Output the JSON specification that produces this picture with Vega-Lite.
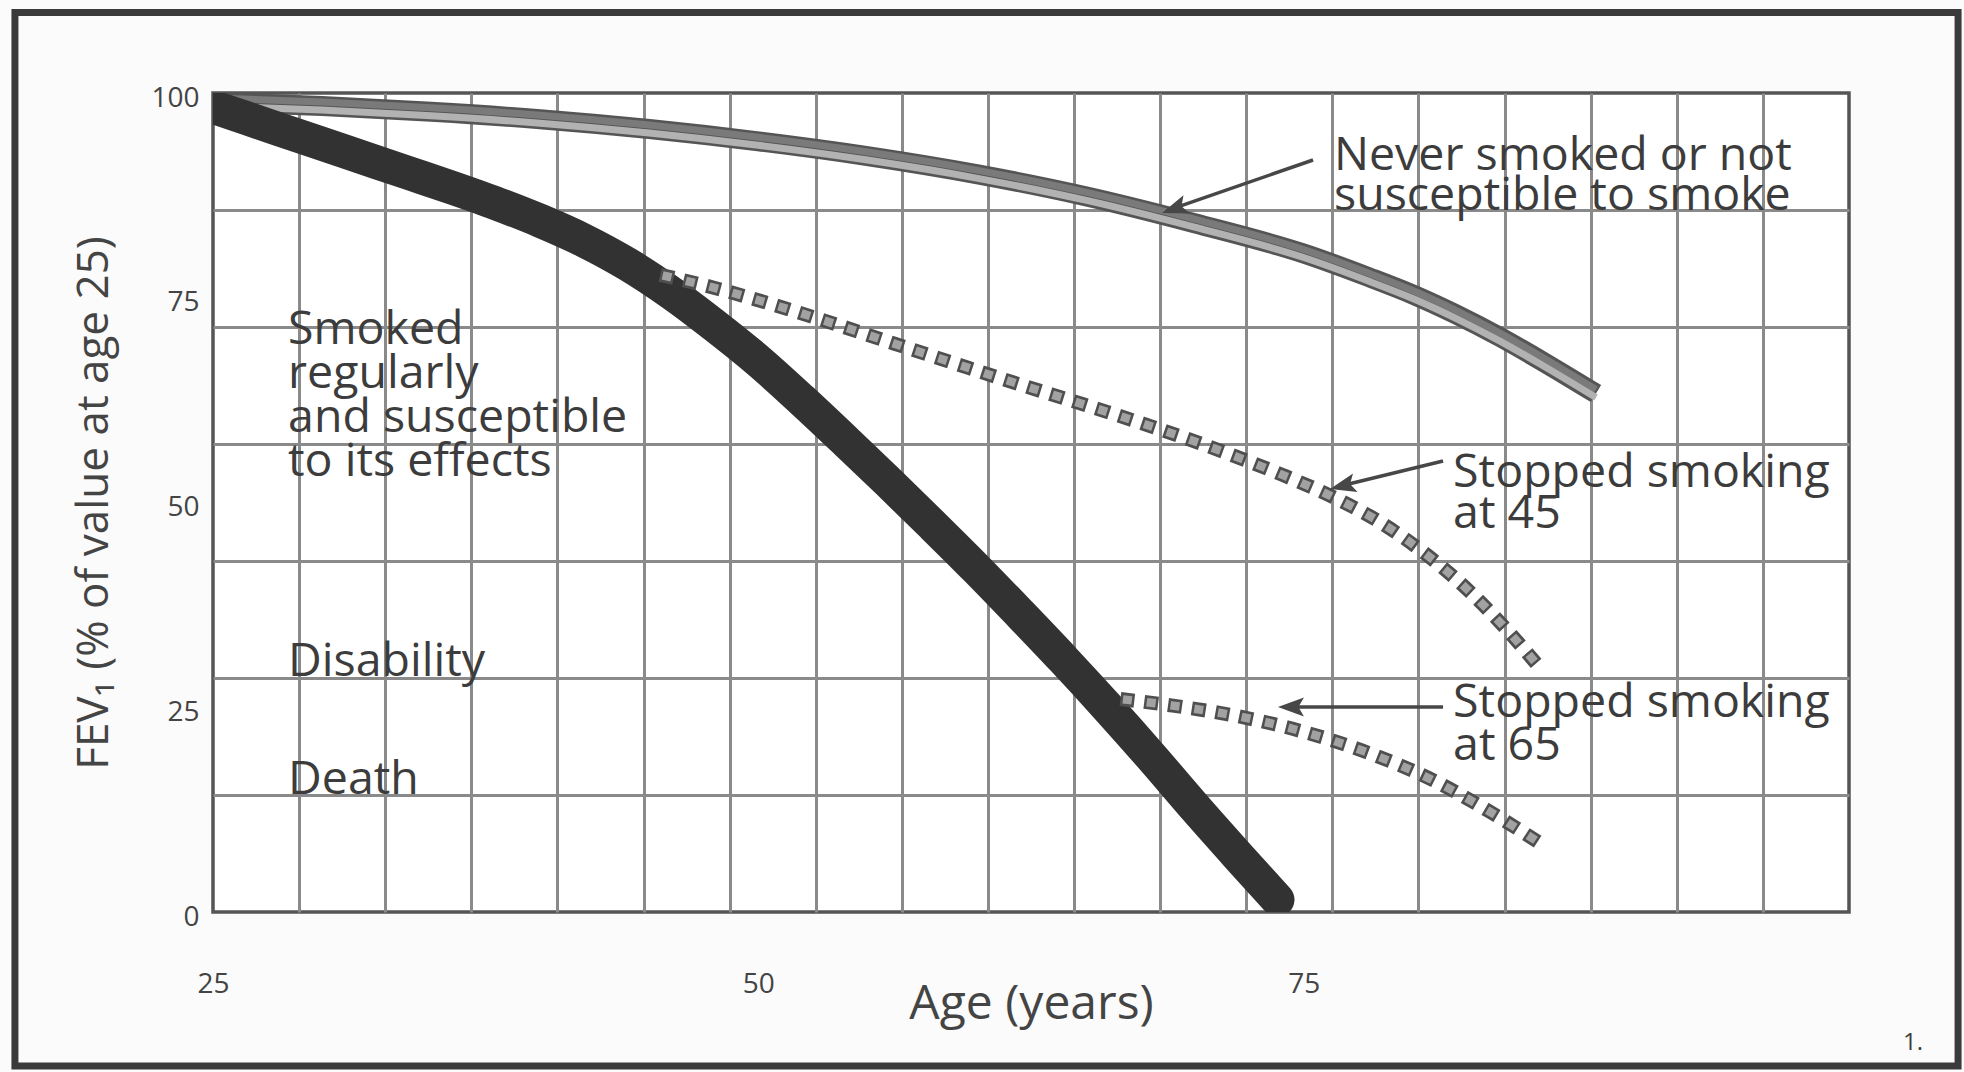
{
  "$schema": "https://vega.github.io/schema/vega-lite/v6.json",
  "width": 1636,
  "height": 819,
  "autosize": {"type": "none"},
  "padding": {"left": 213, "top": 93, "right": 115, "bottom": 160},
  "background": "#fbfbfb",
  "config": {
    "font": "Open Sans",
    "view": {"stroke": "#555555", "strokeWidth": 3.5, "fill": "#ffffff"}
  },
  "datasets": {
    "never": [
      {"age": 25, "fev": 98.9}, {"age": 30, "fev": 98.4}, {"age": 35, "fev": 97.7},
      {"age": 40, "fev": 96.8}, {"age": 45, "fev": 95.6}, {"age": 50, "fev": 94.1},
      {"age": 55, "fev": 92.3}, {"age": 60, "fev": 90.1}, {"age": 65, "fev": 87.4},
      {"age": 70, "fev": 84.1}, {"age": 75, "fev": 80.4}, {"age": 78, "fev": 77.5},
      {"age": 80, "fev": 75.4}, {"age": 82, "fev": 72.95}, {"age": 84, "fev": 70.2},
      {"age": 86, "fev": 67.15}, {"age": 88.4, "fev": 63.3}
    ],
    "smoker": [
      {"age": 25, "fev": 98.3}, {"age": 28, "fev": 95.6}, {"age": 31, "fev": 92.9},
      {"age": 34, "fev": 90.2}, {"age": 36, "fev": 88.4}, {"age": 38, "fev": 86.5},
      {"age": 40, "fev": 84.4}, {"age": 42, "fev": 82.0}, {"age": 44, "fev": 79.1},
      {"age": 46, "fev": 75.6}, {"age": 48, "fev": 71.6}, {"age": 50, "fev": 67.3},
      {"age": 52, "fev": 62.5}, {"age": 54, "fev": 57.5}, {"age": 56, "fev": 52.4},
      {"age": 58, "fev": 47.2}, {"age": 60, "fev": 41.9}, {"age": 62, "fev": 36.4},
      {"age": 64, "fev": 30.8}, {"age": 66, "fev": 25.0}, {"age": 68, "fev": 19.0},
      {"age": 70, "fev": 12.8}, {"age": 72, "fev": 6.8}, {"age": 73.8, "fev": 1.5}
    ],
    "stop45": [
      {"age": 45.5, "fev": 77.8}, {"age": 48, "fev": 76.2}, {"age": 50, "fev": 74.7},
      {"age": 52.8, "fev": 72.4}, {"age": 56, "fev": 69.6}, {"age": 59.1, "fev": 66.9},
      {"age": 62, "fev": 64.4}, {"age": 65, "fev": 61.9}, {"age": 68, "fev": 59.3},
      {"age": 71, "fev": 56.5}, {"age": 74, "fev": 53.4}, {"age": 76.4, "fev": 50.6},
      {"age": 78.5, "fev": 47.6}, {"age": 80.5, "fev": 43.9}, {"age": 82.5, "fev": 39.4},
      {"age": 84.3, "fev": 34.5}, {"age": 85.9, "fev": 29.6}
    ],
    "stop65": [
      {"age": 66.6, "fev": 26}, {"age": 69, "fev": 25.2}, {"age": 72, "fev": 23.9},
      {"age": 75, "fev": 22}, {"age": 78, "fev": 19.4}, {"age": 81, "fev": 16},
      {"age": 83.5, "fev": 12.3}, {"age": 85.9, "fev": 8.3}
    ],
    "arrows": [
      {"age1": 75.43, "fev1": 91.82, "age2": 68.7, "fev2": 85.6},
      {"age1": 81.39, "fev1": 55.07, "age2": 76.5, "fev2": 51.9},
      {"age1": 81.39, "fev1": 25.03, "age2": 74.2, "fev2": 25.03}
    ],
    "labels": [
      {"text": "Never smoked or not", "age": 76.39, "fev": 90.6},
      {"text": "susceptible to smoke", "age": 76.39, "fev": 85.71},
      {"text": "Smoked", "age": 28.44, "fev": 69.35},
      {"text": "regularly", "age": 28.44, "fev": 63.98},
      {"text": "and susceptible", "age": 28.44, "fev": 58.61},
      {"text": "to its effects", "age": 28.44, "fev": 53.24},
      {"text": "Disability", "age": 28.44, "fev": 28.8},
      {"text": "Death", "age": 28.44, "fev": 14.4},
      {"text": "Stopped smoking", "age": 81.85, "fev": 51.89},
      {"text": "at 45", "age": 81.85, "fev": 46.89},
      {"text": "Stopped smoking", "age": 81.85, "fev": 23.8},
      {"text": "at 65", "age": 81.85, "fev": 18.56}
    ]
  },
  "layer": [
    {
      "data": {"values": [{}]},
      "mark": {"type": "rect", "filled": false, "fill": null, "stroke": "#3a3a3a", "strokeWidth": 7, "clip": false},
      "encoding": {
        "x": {"datum": 15.92, "type": "quantitative", "axis": null},
        "x2": {"datum": 105.0},
        "y": {"datum": 109.83, "type": "quantitative", "axis": null},
        "y2": {"datum": -18.8}
      }
    },
    {
      "data": {"name": "never"},
      "mark": {"type": "line", "stroke": "#555555", "strokeWidth": 20, "interpolate": "monotone", "clip": true},
      "encoding": {
        "x": {
          "field": "age", "type": "quantitative",
          "scale": {"domain": [25, 100], "nice": false, "zero": false},
          "axis": {
            "orient": "top",
            "values": [28.947, 32.895, 36.842, 40.789, 44.737, 48.684, 52.632, 56.579, 60.526, 64.474, 68.421, 72.368, 76.316, 80.263, 84.211, 88.158, 92.105, 96.053],
            "grid": true, "gridColor": "#8a8a8a", "gridWidth": 3, "gridOpacity": 1,
            "labels": false, "ticks": false, "domain": false, "title": null
          }
        },
        "y": {
          "field": "fev", "type": "quantitative",
          "scale": {"domain": [0, 100], "nice": false, "zero": true},
          "axis": {
            "orient": "right",
            "values": [14.286, 28.571, 42.857, 57.143, 71.429, 85.714],
            "grid": true, "gridColor": "#8a8a8a", "gridWidth": 3, "gridOpacity": 1,
            "labels": false, "ticks": false, "domain": false, "title": null
          }
        }
      }
    },
    {
      "data": {"name": "never"},
      "mark": {"type": "line", "stroke": "#7a7a7a", "strokeWidth": 7, "yOffset": -4, "interpolate": "monotone", "clip": true},
      "encoding": {
        "x": {"field": "age", "type": "quantitative", "axis": null},
        "y": {"field": "fev", "type": "quantitative", "axis": null}
      }
    },
    {
      "data": {"name": "never"},
      "mark": {"type": "line", "stroke": "#b2b2b2", "strokeWidth": 7, "yOffset": 4, "interpolate": "monotone", "clip": true},
      "encoding": {
        "x": {
          "field": "age", "type": "quantitative",
          "axis": {
            "orient": "bottom",
            "values": [25, 50, 75], "grid": false, "ticks": false, "tickSize": 0, "domain": false,
            "labelFlush": false, "labelFontSize": 28, "labelColor": "#444444",
            "labelBaseline": "alphabetic", "labelPadding": 80,
            "title": "Age (years)", "titleFontSize": 48, "titleFontWeight": "normal",
            "titleColor": "#444444", "titleBaseline": "alphabetic", "titleY": 106
          }
        },
        "y": {
          "field": "fev", "type": "quantitative",
          "axis": {
            "orient": "left",
            "values": [0, 25, 50, 75, 100], "grid": false, "ticks": false, "tickSize": 0, "domain": false,
            "labelFlush": false, "labelFontSize": 28, "labelColor": "#444444",
            "labelPadding": 14, "labelOffset": 5,
            "title": "FEV₁ (% of value at age 25)", "titleFontSize": 44, "titleFontWeight": "normal",
            "titleColor": "#444444", "titlePadding": 34
          }
        }
      }
    },
    {
      "data": {"name": "smoker"},
      "mark": {"type": "line", "stroke": "#323232", "strokeWidth": 34, "strokeCap": "round", "interpolate": "monotone", "clip": true},
      "encoding": {
        "x": {"field": "age", "type": "quantitative", "axis": null},
        "y": {"field": "fev", "type": "quantitative", "axis": null}
      }
    },
    {
      "data": {"name": "stop45"},
      "mark": {"type": "line", "stroke": "#4f4f4f", "strokeWidth": 14, "strokeDash": [14, 10], "interpolate": "monotone"},
      "encoding": {
        "x": {"field": "age", "type": "quantitative", "axis": null},
        "y": {"field": "fev", "type": "quantitative", "axis": null}
      }
    },
    {
      "data": {"name": "stop45"},
      "mark": {"type": "line", "stroke": "#a2a2a2", "strokeWidth": 8.5, "strokeDash": [9, 15], "strokeDashOffset": -2.5, "interpolate": "monotone"},
      "encoding": {
        "x": {"field": "age", "type": "quantitative", "axis": null},
        "y": {"field": "fev", "type": "quantitative", "axis": null}
      }
    },
    {
      "data": {"name": "stop65"},
      "mark": {"type": "line", "stroke": "#4f4f4f", "strokeWidth": 14, "strokeDash": [14, 10], "interpolate": "monotone"},
      "encoding": {
        "x": {"field": "age", "type": "quantitative", "axis": null},
        "y": {"field": "fev", "type": "quantitative", "axis": null}
      }
    },
    {
      "data": {"name": "stop65"},
      "mark": {"type": "line", "stroke": "#a2a2a2", "strokeWidth": 8.5, "strokeDash": [9, 15], "strokeDashOffset": -2.5, "interpolate": "monotone"},
      "encoding": {
        "x": {"field": "age", "type": "quantitative", "axis": null},
        "y": {"field": "fev", "type": "quantitative", "axis": null}
      }
    },
    {
      "data": {"name": "arrows"},
      "mark": {"type": "rule", "stroke": "#474747", "strokeWidth": 3.5},
      "encoding": {
        "x": {"field": "age1", "type": "quantitative", "axis": null},
        "y": {"field": "fev1", "type": "quantitative", "axis": null},
        "x2": {"field": "age2"},
        "y2": {"field": "fev2"}
      }
    },
    {
      "data": {"values": [{"age": 68.51, "fev": 85.35}]},
      "mark": {"type": "point", "shape": "M0,0L0.7,1.9L0,1.5L-0.7,1.9Z", "size": 750, "filled": true, "fill": "#474747", "opacity": 1, "strokeWidth": 0, "angle": 250.7},
      "encoding": {
        "x": {"field": "age", "type": "quantitative", "axis": null},
        "y": {"field": "fev", "type": "quantitative", "axis": null}
      }
    },
    {
      "data": {"values": [{"age": 76.21, "fev": 51.65}]},
      "mark": {"type": "point", "shape": "M0,0L0.7,1.9L0,1.5L-0.7,1.9Z", "size": 750, "filled": true, "fill": "#474747", "opacity": 1, "strokeWidth": 0, "angle": 256.1},
      "encoding": {
        "x": {"field": "age", "type": "quantitative", "axis": null},
        "y": {"field": "fev", "type": "quantitative", "axis": null}
      }
    },
    {
      "data": {"values": [{"age": 73.82, "fev": 25.03}]},
      "mark": {"type": "point", "shape": "M0,0L0.7,1.9L0,1.5L-0.7,1.9Z", "size": 750, "filled": true, "fill": "#474747", "opacity": 1, "strokeWidth": 0, "angle": 270},
      "encoding": {
        "x": {"field": "age", "type": "quantitative", "axis": null},
        "y": {"field": "fev", "type": "quantitative", "axis": null}
      }
    },
    {
      "data": {"name": "labels"},
      "mark": {"type": "text", "align": "left", "baseline": "alphabetic", "fontSize": 46.5, "fill": "#3c3c3c"},
      "encoding": {
        "x": {"field": "age", "type": "quantitative", "axis": null},
        "y": {"field": "fev", "type": "quantitative", "axis": null},
        "text": {"field": "text"}
      }
    },
    {
      "data": {"values": [{"text": "1.", "age": 102.94, "fev": -16.9}]},
      "mark": {"type": "text", "align": "center", "baseline": "alphabetic", "fontSize": 24, "fill": "#3c3c3c"},
      "encoding": {
        "x": {"field": "age", "type": "quantitative", "axis": null},
        "y": {"field": "fev", "type": "quantitative", "axis": null},
        "text": {"field": "text"}
      }
    }
  ],
  "resolve": {"axis": {"x": "independent", "y": "independent"}}
}
